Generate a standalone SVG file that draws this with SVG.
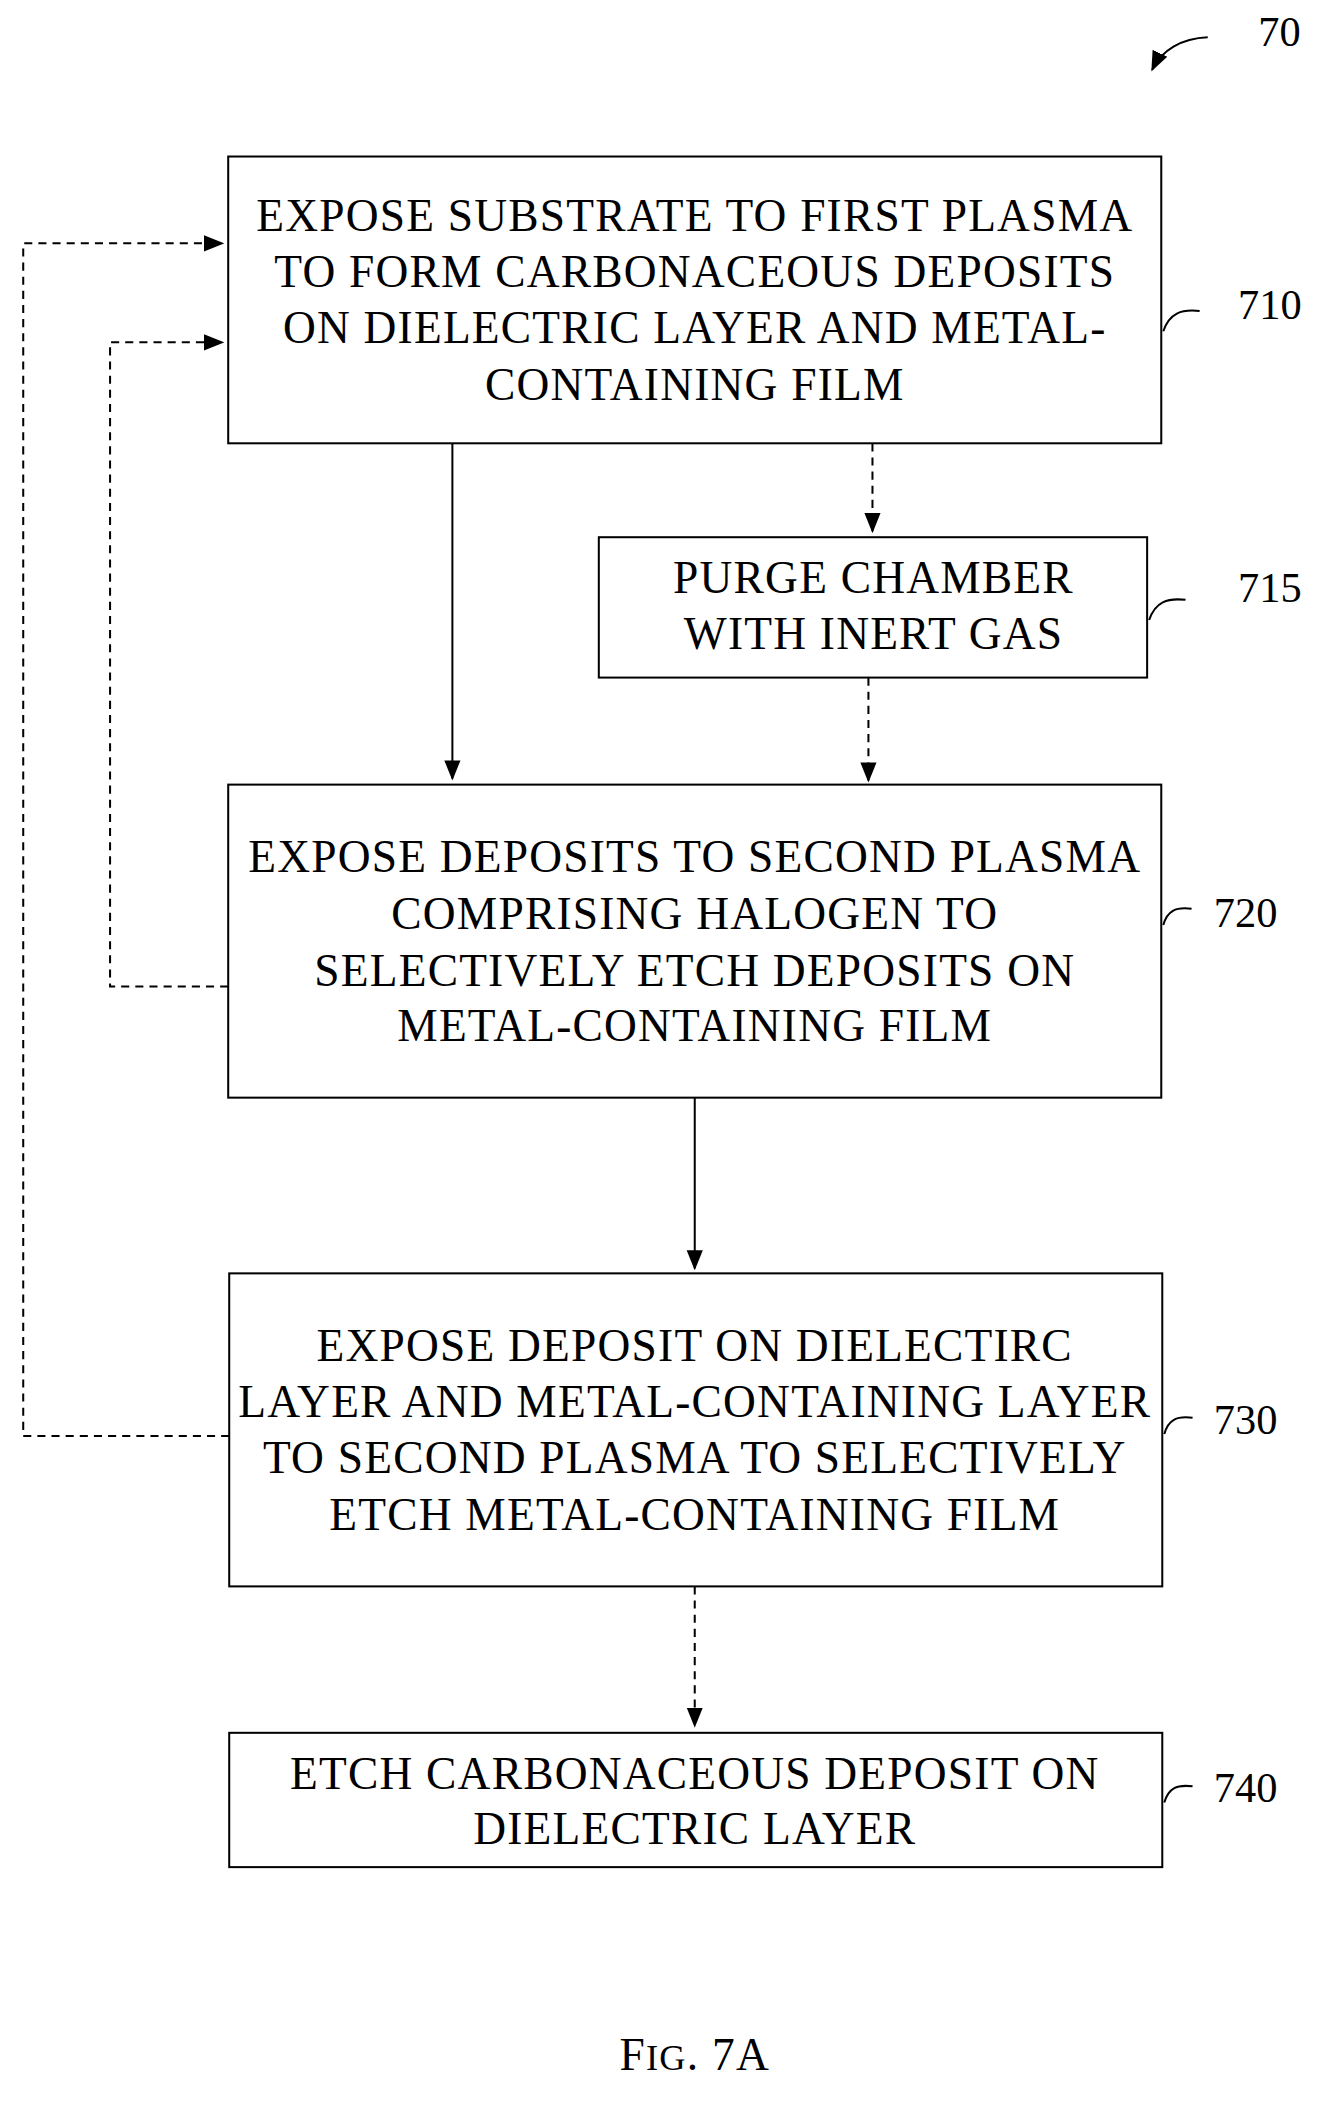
<svg xmlns="http://www.w3.org/2000/svg" width="1329" height="2101" viewBox="0 0 1329 2101">
<style>
.b{fill:#fff;stroke:#000;stroke-width:2}
.t{font-family:"Liberation Serif",serif;font-size:45px;letter-spacing:1.2px;text-anchor:middle;fill:#000}
.l{font-family:"Liberation Serif",serif;font-size:42px;fill:#000}
.s{fill:none;stroke:#000;stroke-width:2}
.d{fill:none;stroke:#000;stroke-width:2;stroke-dasharray:8,6}
</style>
<defs>
<marker id="a2" markerWidth="20" markerHeight="20" refX="18" refY="10" orient="auto" markerUnits="userSpaceOnUse" viewBox="0 0 20 20"><path d="M0,2 L20,10 L0,18 z" fill="#000"/></marker></defs>
<rect width="1329" height="2101" fill="#fff"/>
<g transform="scale(1.0098)">
<g id="connectors">
<path class="s" d="M448,439 V771" marker-end="url(#a2)"/>
<path class="d" d="M864,439 V526" marker-end="url(#a2)"/>
<path class="d" d="M860,671 V773" marker-end="url(#a2)"/>
<path class="s" d="M688,1087 V1256" marker-end="url(#a2)"/>
<path class="d" d="M688,1571 V1709" marker-end="url(#a2)"/>
<path class="d" d="M226,977 H109 V339 H220" marker-end="url(#a2)"/>
<path class="d" d="M227,1422 H23 V241 H220" marker-end="url(#a2)"/>
</g>
<g id="n710"><rect class="b" x="226" y="155" width="924" height="284"/>
<text class="t" x="688" y="229">EXPOSE SUBSTRATE TO FIRST PLASMA</text>
<text class="t" x="688" y="284">TO FORM CARBONACEOUS DEPOSITS</text>
<text class="t" x="688" y="340">ON DIELECTRIC LAYER AND METAL-</text>
<text class="t" x="688" y="396">CONTAINING FILM</text>
<path class="s" d="M1152,328 C1158,310 1170,306 1188,308"/><text class="l" x="1226" y="316">710</text></g>
<g id="n715"><rect class="b" x="593" y="532" width="543" height="139"/>
<text class="t" x="865" y="587">PURGE CHAMBER</text>
<text class="t" x="865" y="643">WITH INERT GAS</text>
<path class="s" d="M1138,614 C1144,596 1156,592 1174,594"/><text class="l" x="1226" y="596">715</text></g>
<g id="n720"><rect class="b" x="226" y="777" width="924" height="310"/>
<text class="t" x="688" y="864">EXPOSE DEPOSITS TO SECOND PLASMA</text>
<text class="t" x="688" y="920">COMPRISING HALOGEN TO</text>
<text class="t" x="688" y="976">SELECTIVELY ETCH DEPOSITS ON</text>
<text class="t" x="688" y="1031">METAL-CONTAINING FILM</text>
<path class="s" d="M1152,916 C1156,902 1164,898 1180,900"/><text class="l" x="1202" y="918">720</text></g>
<g id="n730"><rect class="b" x="227" y="1261" width="924" height="310"/>
<text class="t" x="688" y="1348">EXPOSE DEPOSIT ON DIELECTIRC</text>
<text class="t" x="688" y="1403">LAYER AND METAL-CONTAINING LAYER</text>
<text class="t" x="688" y="1459">TO SECOND PLASMA TO SELECTIVELY</text>
<text class="t" x="688" y="1515">ETCH METAL-CONTAINING FILM</text>
<path class="s" d="M1153,1420 C1157,1406 1165,1402 1181,1404"/><text class="l" x="1202" y="1420">730</text></g>
<g id="n740"><rect class="b" x="227" y="1716" width="924" height="133"/>
<text class="t" x="688" y="1772">ETCH CARBONACEOUS DEPOSIT ON</text>
<text class="t" x="688" y="1826">DIELECTRIC LAYER</text>
<path class="s" d="M1153,1785 C1157,1771 1165,1767 1181,1769"/><text class="l" x="1202" y="1785">740</text></g>
<g id="ref70"><path class="s" d="M1196,37 C1170,38 1150,50 1141,69" marker-end="url(#a2)"/><text class="l" x="1246" y="46">70</text></g>
<text class="t" x="688" y="2050">F<tspan font-size="36">IG</tspan>. 7A</text>
</g>
</svg>
